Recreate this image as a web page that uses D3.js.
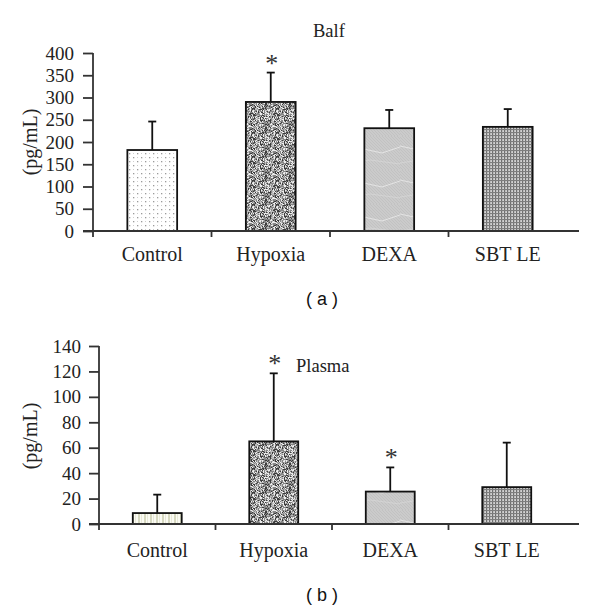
<!DOCTYPE html>
<html><head><meta charset="utf-8">
<script src="https://cdn.jsdelivr.net/npm/d3@7"></script>
<style>body{margin:0;background:#fff}svg{display:block}</style>
</head><body>
<svg id="c" width="600" height="611"></svg>
<script>
const categories = ["Control", "Hypoxia", "DEXA", "SBT LE"];
const balfMean = [182, 290, 231, 234];
const balfErr = [64, 66, 41, 40];
const balfSig = [false, true, false, false];
const balfTicks = [0, 50, 100, 150, 200, 250, 300, 350, 400];
const plasmaMean = [8.6, 65, 25.5, 29];
const plasmaErr = [14.5, 53.5, 19, 35];
const plasmaSig = [false, true, true, false];
const plasmaTicks = [0, 20, 40, 60, 80, 100, 120, 140];

const svg = d3.select("#c");
const defs = svg.append("defs");

function h(i, j, s) { let v = Math.sin(i * 12.9898 + j * 78.233 + s * 3.7) * 43758.5453; return v - Math.floor(v); }

let p = defs.append("pattern").attr("id", "dots").attr("patternUnits", "userSpaceOnUse").attr("width", 8).attr("height", 8);
p.append("rect").attr("width", 8).attr("height", 8).attr("fill", "#fff");
[[1,1],[5,5]].forEach(([x,y]) => p.append("rect").attr("x", x).attr("y", y).attr("width", 1.3).attr("height", 1.3).attr("fill", "#9a9a9a"));
[[5,1],[1,5]].forEach(([x,y]) => p.append("rect").attr("x", x).attr("y", y).attr("width", 1).attr("height", 1).attr("fill", "#cfcfcf"));

p = defs.append("pattern").attr("id", "noise").attr("patternUnits", "userSpaceOnUse").attr("width", 24).attr("height", 24);
p.append("rect").attr("width", 24).attr("height", 24).attr("fill", "#858585");
for (let i = 0; i < 24; i++) for (let j = 0; j < 24; j++) {
  const r = h(i, j, 1);
  if (r > 0.58) p.append("rect").attr("x", i).attr("y", j).attr("width", 1).attr("height", 1).attr("fill", r > 0.8 ? "#eeeeee" : "#bcbcbc");
  else if (r < 0.2) p.append("rect").attr("x", i).attr("y", j).attr("width", 1).attr("height", 1).attr("fill", "#3c3c3c");
}

p = defs.append("pattern").attr("id", "dexa").attr("patternUnits", "userSpaceOnUse").attr("width", 50).attr("height", 34);
p.append("rect").attr("width", 50).attr("height", 34).attr("fill", "#cbcbcb");
for (let k = -40; k < 60; k += 3) p.append("line").attr("x1", k).attr("y1", 0).attr("x2", k + 34).attr("y2", 34).attr("stroke", "#c0c0c0").attr("stroke-width", 0.8);
p.append("polyline").attr("points", "0,10 32,17 50,11").attr("fill", "none").attr("stroke", "#e6e6e6").attr("stroke-width", 0.9);
p.append("polyline").attr("points", "0,27 20,24 50,28").attr("fill", "none").attr("stroke", "#d8d8d8").attr("stroke-width", 0.7);

p = defs.append("pattern").attr("id", "grid").attr("patternUnits", "userSpaceOnUse").attr("width", 3).attr("height", 3);
p.append("rect").attr("width", 3).attr("height", 3).attr("fill", "#d4d4d4");
p.append("rect").attr("x", 0).attr("y", 0).attr("width", 1.2).attr("height", 3).attr("fill", "#707070");
p.append("rect").attr("x", 0).attr("y", 0).attr("width", 3).attr("height", 1.1).attr("fill", "#7e7e7e");

p = defs.append("pattern").attr("id", "stripes").attr("patternUnits", "userSpaceOnUse").attr("width", 6).attr("height", 6);
p.append("rect").attr("width", 6).attr("height", 6).attr("fill", "#fbfbf3");
p.append("rect").attr("x", 0).attr("width", 2).attr("height", 6).attr("fill", "#d6d8c0");
p.append("rect").attr("x", 3).attr("width", 1).attr("height", 6).attr("fill", "#e8e9d8");

const fillsA = ["url(#dots)", "url(#noise)", "url(#dexa)", "url(#grid)"];
const fillsB = ["url(#stripes)", "url(#noise)", "url(#dexa)", "url(#grid)"];

const serif = "'Liberation Serif', 'Times New Roman', serif";

function panel(cfg) {
  const g = svg.append("g");
  const x = d3.scaleBand().domain(categories).range([cfg.x0, cfg.x1]).paddingInner(0.58).paddingOuter(0.29);
  const y = d3.scaleLinear().domain([0, cfg.max]).range([cfg.y0, cfg.y1]);

  g.selectAll("rect.bar").data(categories).join("rect")
    .attr("x", d => x(d)).attr("width", x.bandwidth())
    .attr("y", (d, i) => y(cfg.mean[i])).attr("height", (d, i) => y(0) - y(cfg.mean[i]))
    .attr("fill", (d, i) => cfg.fills[i]).attr("stroke", "#111").attr("stroke-width", 1.8);

  categories.forEach((d, i) => {
    const cx = x(d) + x.bandwidth() / 2;
    const top = y(cfg.mean[i] + cfg.err[i]);
    g.append("line").attr("x1", cx).attr("x2", cx).attr("y1", y(cfg.mean[i])).attr("y2", top).attr("stroke", "#111").attr("stroke-width", 1.8);
    g.append("line").attr("x1", cx - 4).attr("x2", cx + 4).attr("y1", top).attr("y2", top).attr("stroke", "#111").attr("stroke-width", 1.8);
    if (cfg.sig[i]) g.append("text").attr("x", cx + 1).attr("y", top - 1).attr("text-anchor", "middle")
      .attr("font-family", serif).attr("font-size", 26).attr("fill", "#333").text("*");
  });

  const ya = g.append("g").attr("transform", `translate(${cfg.x0},0)`)
    .call(d3.axisLeft(y).tickValues(cfg.ticks).tickSize(10).tickPadding(cfg.tp).tickFormat(d3.format("d")));
  ya.select(".domain").attr("stroke", "#333").attr("stroke-width", 1.8).attr("d", `M0,${y(cfg.max)}V${y(0)}`);
  ya.selectAll(".tick line").attr("stroke", "#333").attr("stroke-width", 1.8);
  ya.selectAll(".tick text").attr("font-family", serif).attr("font-size", 19).attr("fill", "#222");

  const step = x.step();
  g.append("line").attr("x1", cfg.x0 - 10).attr("x2", cfg.xEnd).attr("y1", y(0)).attr("y2", y(0)).attr("stroke", "#333").attr("stroke-width", 1.8);
  const bounds = [cfg.x0].concat(categories.slice(1).map(d => x(d) - (step - x.bandwidth()) / 2));
  g.selectAll("line.xt").data(bounds).join("line").attr("x1", d => d).attr("x2", d => d)
    .attr("y1", y(0)).attr("y2", y(0) + 6).attr("stroke", "#333").attr("stroke-width", 1.8);
  g.selectAll("text.cat").data(categories).join("text")
    .attr("x", d => x(d) + x.bandwidth() / 2).attr("y", cfg.catY).attr("text-anchor", "middle")
    .attr("font-family", serif).attr("font-size", 20).attr("fill", "#222").text(d => d);

  g.append("text").attr("transform", `translate(${cfg.ylx},${cfg.yly}) rotate(-90)`).attr("text-anchor", "middle")
    .attr("dy", "0.35em").attr("font-family", serif).attr("font-size", 20).attr("fill", "#222").text("(pg/mL)");

  g.append("text").attr("x", cfg.tx).attr("y", cfg.ty).attr("font-family", serif).attr("font-size", 18.5).attr("fill", "#222").text(cfg.title);

  g.append("text").attr("x", 322).attr("y", cfg.ly).attr("text-anchor", "middle").attr("font-family", "'Liberation Sans', Arial, sans-serif")
    .attr("font-size", 18).attr("fill", "#111").attr("xml:space", "preserve").text(cfg.label);
}

panel({ x0: 93, x1: 567, xEnd: 579, y0: 231, y1: 53, max: 400, mean: balfMean, err: balfErr, sig: balfSig, ticks: balfTicks, tp: 9,
  fills: fillsA, catY: 261, ylx: 30, yly: 142, title: "Balf", tx: 313, ty: 37, label: "( a )", ly: 305 });
panel({ x0: 99, x1: 565, xEnd: 579, y0: 524, y1: 346, max: 140, mean: plasmaMean, err: plasmaErr, sig: plasmaSig, ticks: plasmaTicks, tp: 8,
  fills: fillsB, catY: 557, ylx: 30, yly: 436, title: "Plasma", tx: 296, ty: 372, label: "( b )", ly: 601 });
</script>
</body></html>
